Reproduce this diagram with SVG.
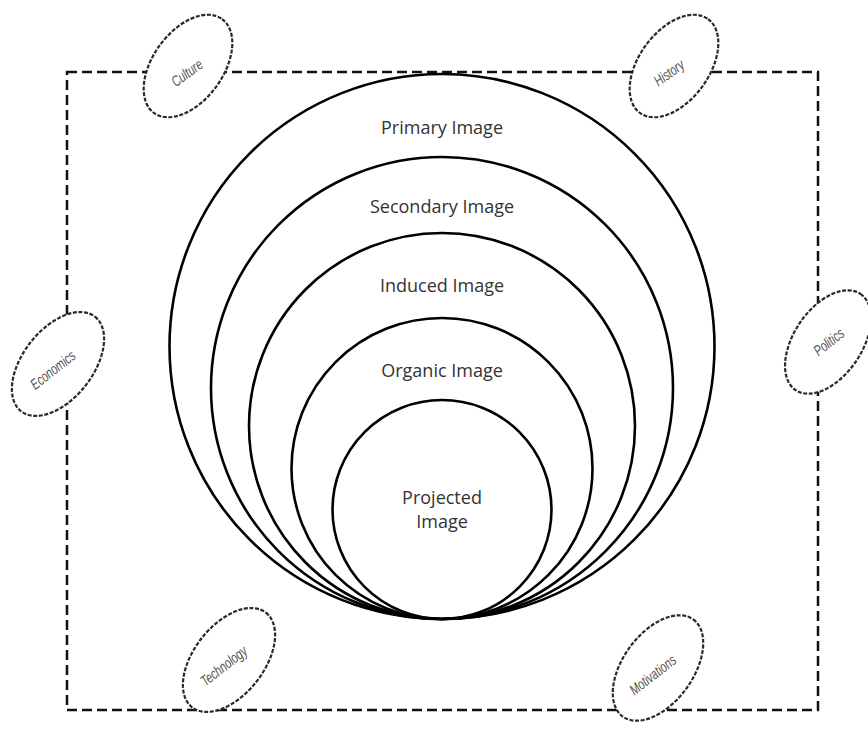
<svg xmlns="http://www.w3.org/2000/svg" width="868" height="733" viewBox="0 0 868 733">
<style>
.frame{fill:none;stroke:#111;stroke-width:2.5;stroke-dasharray:10 5}
.ring{fill:none;stroke:#000;stroke-width:2.6}
.oval{fill:#fff;stroke:#2a2a2a;stroke-width:2.2;stroke-dasharray:4 1.6}
.lbl{font-family:"Open Sans","Liberation Sans",sans-serif;font-size:18px;fill:#333;text-anchor:middle}
.fac{font-family:"Liberation Sans","DejaVu Sans",sans-serif;font-size:15px;font-style:italic;fill:#555;text-anchor:middle}
</style>
<rect width="868" height="733" fill="#fff"/>
<g id="connectors">
<rect class="frame" x="67" y="72" width="751" height="638"/>
</g>
<g id="primary"><circle class="ring" cx="442" cy="346.5" r="272.5"/><text class="lbl" x="442" y="134">Primary Image</text></g>
<g id="secondary"><circle class="ring" cx="442" cy="388" r="231"/><text class="lbl" x="442" y="213">Secondary Image</text></g>
<g id="induced"><circle class="ring" cx="442" cy="426" r="193"/><text class="lbl" x="442" y="292">Induced Image</text></g>
<g id="organic"><circle class="ring" cx="442" cy="468.5" r="150.5"/><text class="lbl" x="442" y="377">Organic Image</text></g>
<g id="projected"><circle class="ring" cx="442" cy="509.5" r="109.5"/><text class="lbl" x="442" y="504">Projected</text><text class="lbl" x="442" y="528">Image</text></g>
<g id="culture"><ellipse class="oval" cx="188" cy="66" rx="58" ry="35" transform="rotate(-54 188 66)"/><text class="fac" transform="translate(190 77) rotate(-36) scale(0.72 1)">Culture</text></g>
<g id="history"><ellipse class="oval" cx="674" cy="66" rx="58" ry="35" transform="rotate(-54 674 66)"/><text class="fac" transform="translate(672 77) rotate(-36) scale(0.72 1)">History</text></g>
<g id="economics"><ellipse class="oval" cx="58" cy="364" rx="60" ry="35" transform="rotate(-52 58 364)"/><text class="fac" transform="translate(56 374) rotate(-38) scale(0.72 1)">Economics</text></g>
<g id="politics"><ellipse class="oval" cx="828" cy="342" rx="58" ry="34" transform="rotate(-56 828 342)"/><text class="fac" transform="translate(832 346) rotate(-38) scale(0.72 1)">Politics</text></g>
<g id="technology"><ellipse class="oval" cx="229" cy="660" rx="60" ry="35" transform="rotate(-52 229 660)"/><text class="fac" transform="translate(227 670) rotate(-38) scale(0.72 1)">Technology</text></g>
<g id="motivations"><ellipse class="oval" cx="658" cy="668" rx="60" ry="35" transform="rotate(-54 658 668)"/><text class="fac" transform="translate(656 679) rotate(-38) scale(0.72 1)">Motivations</text></g>
</svg>
